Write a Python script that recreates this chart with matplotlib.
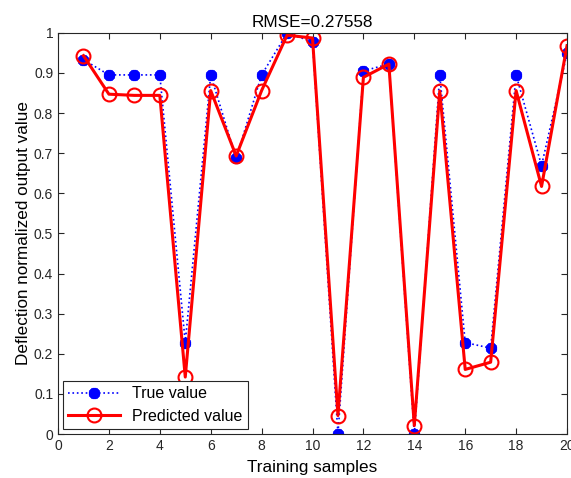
import numpy as np
import matplotlib
matplotlib.use('Agg')
import matplotlib.pyplot as plt

plt.rcParams['font.family'] = ['Liberation Sans', 'DejaVu Sans']

# sample index and the two series
samples = np.arange(1, 21)
true_value = [0.933, 0.895, 0.895, 0.895, 0.228, 0.895, 0.687, 0.895, 0.999, 0.978,
              0.0, 0.905, 0.922, 0.0, 0.895, 0.228, 0.214, 0.895, 0.669, 0.949]
predicted_value = [0.943, 0.847, 0.844, 0.844, 0.142, 0.856, 0.693, 0.856, 0.994, 0.987,
                   0.046, 0.889, 0.922, 0.021, 0.855, 0.161, 0.179, 0.856, 0.617, 0.968]
rmse_text = 'RMSE=0.27558'

fig = plt.figure(figsize=(5.71, 4.78), dpi=100)
ax = fig.add_axes([0.1016, 0.092, 0.8914, 0.8394])

# asterisk marker drawn with thick strokes, like the MATLAB '*'
ax.plot(samples, true_value, color='b', linestyle=':', linewidth=1.2,
        marker=(8, 2, 0), markersize=8, markeredgewidth=2.6, label='True value')
ax.plot(samples, predicted_value, color='r', linestyle='-', linewidth=2.2,
        marker='o', markersize=10, markerfacecolor='none', markeredgewidth=1.5,
        label='Predicted value')

ax.set_xlim(0, 20)
ax.set_ylim(0, 1)
ax.set_xticks(np.arange(0, 21, 2))
ax.set_yticks(np.arange(0, 1.01, 0.1))
ax.set_yticklabels(['0', '0.1', '0.2', '0.3', '0.4', '0.5', '0.6', '0.7', '0.8', '0.9', '1'])
ax.tick_params(direction='in', top=True, right=True, labelsize=10, length=4,
               colors='#262626')
for s in ax.spines.values():
    s.set_color('#262626')
    s.set_linewidth(0.8)

ax.set_title(rmse_text, fontsize=12.3, pad=4)
ax.set_xlabel('Training samples', fontsize=12.3, labelpad=5)
ax.set_ylabel('Deflection normalized output value', fontsize=12.3, labelpad=2)

leg = ax.legend(loc='lower left', fontsize=11.5, fancybox=False, framealpha=1,
                edgecolor='#262626', borderaxespad=0.3, handlelength=3.2,
                borderpad=0.35, labelspacing=0.45)
leg.get_frame().set_linewidth(0.8)

fig.savefig('out.png', dpi=100)
